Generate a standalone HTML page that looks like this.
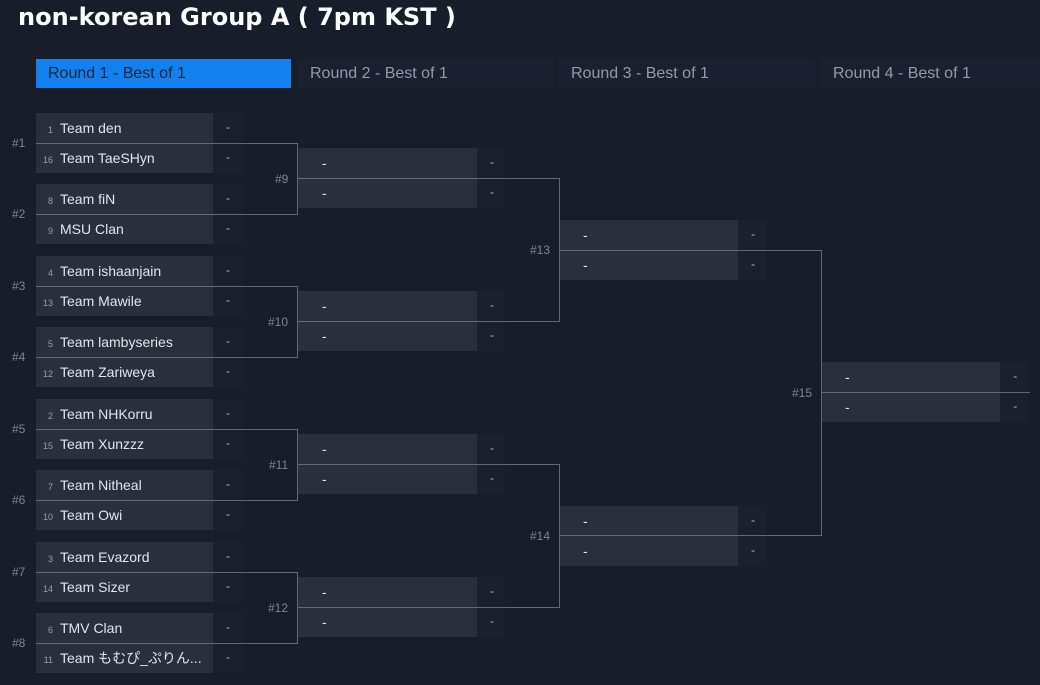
<!DOCTYPE html>
<html><head><meta charset="utf-8"><style>
body{margin:0;width:1040px;height:685px;background:#181d2a;overflow:hidden;position:relative;font-family:"Liberation Sans","Noto Sans CJK JP",sans-serif}
h1{position:absolute;left:18px;top:3px;margin:0;font:bold 24px "DejaVu Sans","Liberation Sans",sans-serif;color:#fff;letter-spacing:0px}
.tab{position:absolute;top:59px;height:29px;line-height:29px;font-size:16px;color:#959aa3;background:#1b2030;padding-left:12px;box-sizing:border-box}
.tab.a{background:#1380ef;color:#17263a}
.m{position:absolute;width:207px}
.r{height:30px;display:flex}
.n{width:177px;background:#2a2f3d;color:#e2e5ea;font-size:14px;line-height:30px;white-space:nowrap;overflow:hidden}
.s{width:30px;background:#1c202c;color:#b8bcc4;font-size:12px;line-height:28px;padding-left:13px;box-sizing:border-box}
.sd{display:inline-block;width:17px;text-align:right;font-size:9px;color:#9a9fa8;margin-right:7px}
.d{padding-left:24px}
.l{position:absolute;font-size:12px;color:#7b8799;line-height:14px}
svg{position:absolute;left:0;top:0}
</style></head><body>
<h1>non-korean Group A ( 7pm KST )</h1>
<div class="tab a" style="left:36px;width:255px">Round 1 - Best of 1</div>
<div class="tab" style="left:298px;width:255px">Round 2 - Best of 1</div>
<div class="tab" style="left:559px;width:256px">Round 3 - Best of 1</div>
<div class="tab" style="left:821px;width:219px">Round 4 - Best of 1</div>

<div class="m" style="left:36px;top:113px"><div class="r"><div class="n"><span class="sd">1</span>Team den</div><div class="s">-</div></div><div class="r"><div class="n"><span class="sd">16</span>Team TaeSHyn</div><div class="s">-</div></div></div>
<div class="m" style="left:36px;top:184px"><div class="r"><div class="n"><span class="sd">8</span>Team fiN</div><div class="s">-</div></div><div class="r"><div class="n"><span class="sd">9</span>MSU Clan</div><div class="s">-</div></div></div>
<div class="m" style="left:36px;top:256px"><div class="r"><div class="n"><span class="sd">4</span>Team ishaanjain</div><div class="s">-</div></div><div class="r"><div class="n"><span class="sd">13</span>Team Mawile</div><div class="s">-</div></div></div>
<div class="m" style="left:36px;top:327px"><div class="r"><div class="n"><span class="sd">5</span>Team lambyseries</div><div class="s">-</div></div><div class="r"><div class="n"><span class="sd">12</span>Team Zariweya</div><div class="s">-</div></div></div>
<div class="m" style="left:36px;top:399px"><div class="r"><div class="n"><span class="sd">2</span>Team NHKorru</div><div class="s">-</div></div><div class="r"><div class="n"><span class="sd">15</span>Team Xunzzz</div><div class="s">-</div></div></div>
<div class="m" style="left:36px;top:470px"><div class="r"><div class="n"><span class="sd">7</span>Team Nitheal</div><div class="s">-</div></div><div class="r"><div class="n"><span class="sd">10</span>Team Owi</div><div class="s">-</div></div></div>
<div class="m" style="left:36px;top:542px"><div class="r"><div class="n"><span class="sd">3</span>Team Evazord</div><div class="s">-</div></div><div class="r"><div class="n"><span class="sd">14</span>Team Sizer</div><div class="s">-</div></div></div>
<div class="m" style="left:36px;top:613px"><div class="r"><div class="n"><span class="sd">6</span>TMV Clan</div><div class="s">-</div></div><div class="r"><div class="n"><span class="sd">11</span>Team もむぴ_ぷりん...</div><div class="s">-</div></div></div>

<div class="m" style="left:298px;top:148px"><div class="r"><div class="n d">-</div><div class="s">-</div></div><div class="r"><div class="n d">-</div><div class="s">-</div></div></div>
<div class="m" style="left:298px;top:291px"><div class="r"><div class="n d">-</div><div class="s">-</div></div><div class="r"><div class="n d">-</div><div class="s">-</div></div></div>
<div class="m" style="left:298px;top:434px"><div class="r"><div class="n d">-</div><div class="s">-</div></div><div class="r"><div class="n d">-</div><div class="s">-</div></div></div>
<div class="m" style="left:298px;top:577px"><div class="r"><div class="n d">-</div><div class="s">-</div></div><div class="r"><div class="n d">-</div><div class="s">-</div></div></div>
<div class="m" style="left:559px;top:220px"><div class="r"><div class="n d">-</div><div class="s">-</div></div><div class="r"><div class="n d">-</div><div class="s">-</div></div></div>
<div class="m" style="left:559px;top:506px"><div class="r"><div class="n d">-</div><div class="s">-</div></div><div class="r"><div class="n d">-</div><div class="s">-</div></div></div>
<div class="m" style="left:821px;top:362px"><div class="r"><div class="n d">-</div><div class="s">-</div></div><div class="r"><div class="n d">-</div><div class="s">-</div></div></div>

<svg width="1040" height="685" fill="none" stroke="#626874" stroke-width="1">
<path d="M36 143.5H297.5V214.5H36"/>
<path d="M36 286.5H297.5V357.5H36"/>
<path d="M36 429.5H297.5V500.5H36"/>
<path d="M36 572.5H297.5V643.5H36"/>
<path d="M298 178.5H559.5V321.5H298"/>
<path d="M298 464.5H559.5V607.5H298"/>
<path d="M559 250.5H821.5V535.5H559"/>
<path d="M821 392.5H1030"/>
</svg>

<div class="l" style="left:12px;top:136px">#1</div>
<div class="l" style="left:12px;top:207px">#2</div>
<div class="l" style="left:12px;top:279px">#3</div>
<div class="l" style="left:12px;top:350px">#4</div>
<div class="l" style="left:12px;top:422px">#5</div>
<div class="l" style="left:12px;top:493px">#6</div>
<div class="l" style="left:12px;top:565px">#7</div>
<div class="l" style="left:12px;top:636px">#8</div>
<div class="l" style="left:275px;top:172px">#9</div>
<div class="l" style="left:268px;top:315px">#10</div>
<div class="l" style="left:269px;top:458px">#11</div>
<div class="l" style="left:268px;top:601px">#12</div>
<div class="l" style="left:530px;top:243px">#13</div>
<div class="l" style="left:530px;top:529px">#14</div>
<div class="l" style="left:792px;top:386px">#15</div>
</body></html>
